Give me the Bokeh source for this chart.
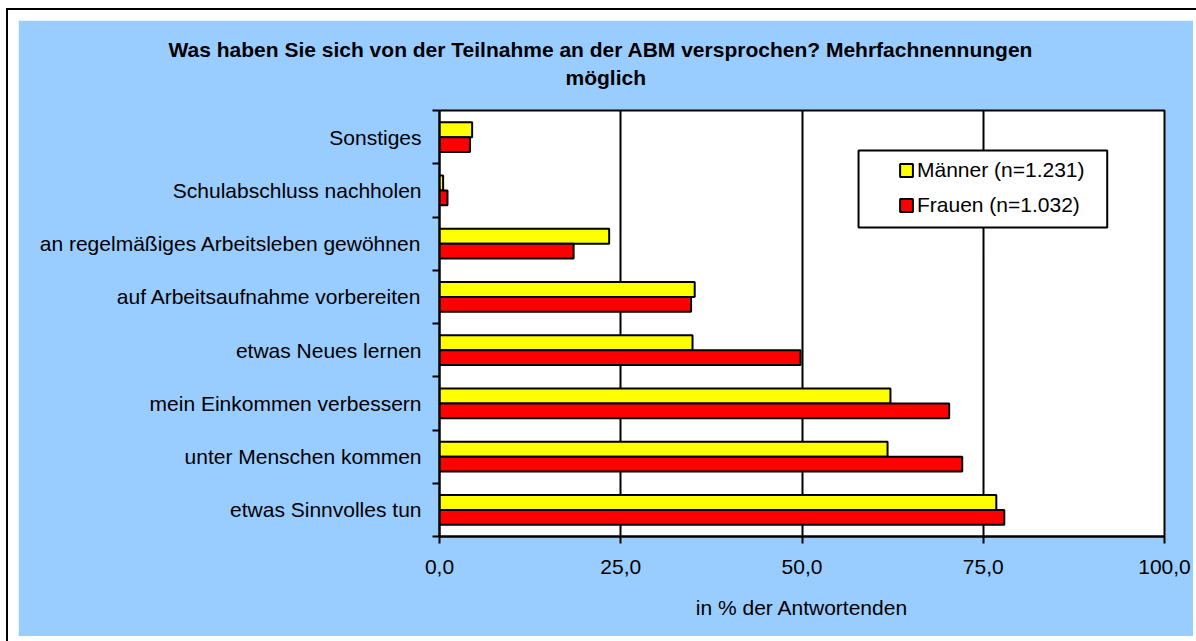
from bokeh.plotting import figure
from bokeh.models import (Range1d, FixedTicker, Legend, LegendItem, BoxAnnotation,
                          Title, ColumnDataSource)
from bokeh.layouts import column
from bokeh.embed import file_html
from bokeh.resources import INLINE

# Data (top to bottom as in the chart)
categories = ["Sonstiges", "Schulabschluss nachholen",
              "an regelmäßiges Arbeitsleben gewöhnen",
              "auf Arbeitsaufnahme vorbereiten", "etwas Neues lernen",
              "mein Einkommen verbessern", "unter Menschen kommen",
              "etwas Sinnvolles tun"]
maenner = [4.5, 0.5, 23.4, 35.2, 34.9, 62.2, 61.8, 76.8]
frauen = [4.2, 1.1, 18.5, 34.7, 49.8, 70.3, 72.1, 77.9]
x_ticks = [0, 25, 50, 75, 100]
x_tick_labels = ["0,0", "25,0", "50,0", "75,0", "100,0"]
series_labels = ["Männer (n=1.231)", "Frauen (n=1.032)"]
title_lines = ["Was haben Sie sich von der Teilnahme an der ABM versprochen? Mehrfachnennungen",
               "möglich"]
x_label = "in % der Antwortenden"

FONT = "Liberation Sans"
BLUE = "#99CCFF"

n = len(categories)
centers = [n - 1 - i + 0.5 for i in range(n)]  # first category at top
bar_h = 0.28
src = ColumnDataSource(dict(
    cat=categories, m=maenner, f=frauen,
    ym=[c + bar_h / 2 for c in centers],
    yf=[c - bar_h / 2 for c in centers],
))

p = figure(width=1175, height=616, x_range=Range1d(0, 100), y_range=Range1d(0, n),
           output_backend="svg", toolbar_location=None, title=None,
           min_border_left=421, min_border_right=29, min_border_top=90,
           min_border_bottom=100)
p.background_fill_color = "white"
p.border_fill_color = BLUE
p.outline_line_color = "black"
p.outline_line_width = 2
# white margin and thin black frame around the chart area
p.styles = {"box-shadow": "0 0 0 10px white, 0 0 0 12px black"}

rm = p.hbar(y="ym", left=0, right="m", height=bar_h, source=src,
            fill_color="#FFFF00", line_color="black", line_width=2)
rf = p.hbar(y="yf", left=0, right="f", height=bar_h, source=src,
            fill_color="#FF0000", line_color="black", line_width=2)

# grid
p.ygrid.visible = False
p.xgrid.ticker = FixedTicker(ticks=x_ticks)
p.xgrid.grid_line_color = "black"
p.xgrid.grid_line_width = 2

# x axis
xa = p.xaxis[0]
xa.ticker = FixedTicker(ticks=x_ticks)
xa.major_label_overrides = {t: l for t, l in zip(x_ticks, x_tick_labels)}
xa.major_label_text_font = FONT
xa.major_label_text_font_size = "21px"
xa.major_label_text_color = "black"
xa.major_tick_out = 7
xa.major_tick_in = 0
xa.major_tick_line_width = 2
xa.major_tick_line_color = "black"
xa.minor_tick_line_color = None
xa.axis_line_width = 2
xa.axis_line_color = "black"
xa.major_label_standoff = 16
xa.axis_label = x_label
xa.axis_label_text_font = FONT
xa.axis_label_text_font_size = "21px"
xa.axis_label_text_font_style = "normal"
xa.axis_label_text_color = "black"
xa.axis_label_standoff = 19

# y axis
ya = p.yaxis[0]
ya.ticker = FixedTicker(ticks=centers, minor_ticks=list(range(n + 1)))
ya.major_label_overrides = {c: cat for c, cat in zip(centers, categories)}
ya.major_label_text_font = FONT
ya.major_label_text_font_size = "21px"
ya.major_label_text_color = "black"
ya.major_tick_line_color = None
ya.major_tick_out = 0
ya.major_tick_in = 0
ya.minor_tick_out = 7
ya.minor_tick_in = 0
ya.minor_tick_line_width = 2
ya.minor_tick_line_color = "black"
ya.axis_line_width = 2
ya.axis_line_color = "black"
ya.major_label_standoff = 11

# title (two lines; the first added sits closest to the plot)
p.add_layout(Title(text=title_lines[1], align="left", offset=126,
                   text_font=FONT, text_font_size="21px", text_font_style="bold",
                   text_color="black", standoff=44), "above")
p.add_layout(Title(text=title_lines[0], align="left", offset=-271,
                   text_font=FONT, text_font_size="21px", text_font_style="bold",
                   text_color="black", standoff=-39), "above")

# legend frame
p.add_layout(BoxAnnotation(left=57.8, right=92.1, top=7.249, bottom=5.803,
                           fill_color="white", fill_alpha=1.0,
                           line_color="black", line_width=2, line_alpha=1.0))
legend = Legend(items=[LegendItem(label=series_labels[0], renderers=[rm]),
                       LegendItem(label=series_labels[1], renderers=[rf])],
                location=(454, 314), margin=0, padding=5, spacing=11,
                glyph_width=16, glyph_height=16, label_height=24,
                label_standoff=3, label_text_font=FONT,
                label_text_font_size="21px", label_text_color="black",
                border_line_alpha=0, background_fill_alpha=0)
p.add_layout(legend)

layout = column(p, styles={"background-color": "white",
                           "padding-left": "18px", "padding-top": "20px"})

open("out.html", "w").write(file_html(layout, INLINE))
